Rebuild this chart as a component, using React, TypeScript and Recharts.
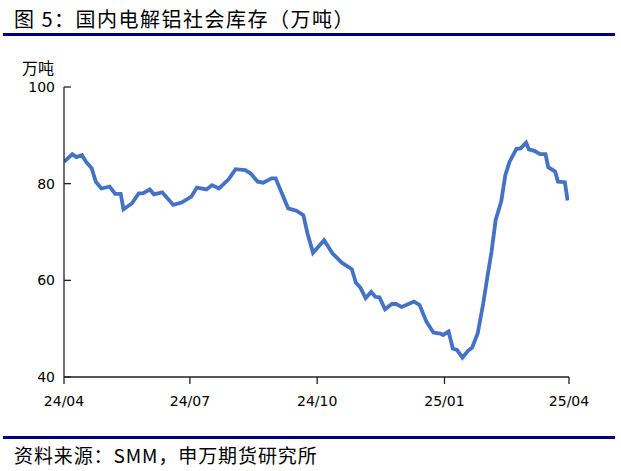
import React from 'react';
import { LineChart, Line, XAxis, YAxis } from 'recharts';

const dates = [
  '2024-04-01', '2024-04-07', '2024-04-10', '2024-04-14', '2024-04-17', '2024-04-21', '2024-04-24', '2024-04-28',
  '2024-05-04', '2024-05-08', '2024-05-12', '2024-05-14', '2024-05-20', '2024-05-25', '2024-05-28',
  '2024-06-02', '2024-06-05', '2024-06-11', '2024-06-19', '2024-06-25',
  '2024-07-02', '2024-07-06', '2024-07-13', '2024-07-17', '2024-07-22', '2024-07-29',
  '2024-08-03', '2024-08-10', '2024-08-14', '2024-08-19', '2024-08-23', '2024-08-29',
  '2024-09-01', '2024-09-03', '2024-09-10', '2024-09-16', '2024-09-21', '2024-09-24', '2024-09-28',
  '2024-10-06', '2024-10-12', '2024-10-19', '2024-10-24', '2024-10-26', '2024-10-29',
  '2024-11-01', '2024-11-05', '2024-11-09', '2024-11-12', '2024-11-15', '2024-11-19', '2024-11-24', '2024-11-27',
  '2024-12-01', '2024-12-06', '2024-12-10', '2024-12-14', '2024-12-19', '2024-12-24', '2024-12-29', '2024-12-31',
  '2025-01-04', '2025-01-07', '2025-01-10', '2025-01-14', '2025-01-18', '2025-01-21', '2025-01-25', '2025-01-29',
  '2025-02-01', '2025-02-04', '2025-02-07', '2025-02-11', '2025-02-14', '2025-02-17', '2025-02-22', '2025-02-25',
  '2025-03-01', '2025-03-03', '2025-03-07', '2025-03-11', '2025-03-15', '2025-03-17', '2025-03-22', '2025-03-24',
  '2025-03-29', '2025-03-31',
];

const inventory = [
  84.5, 86.1, 85.5, 85.9, 84.5, 83.2, 80.4, 79.0,
  79.4, 77.9, 77.9, 74.7, 75.9, 78.0, 78.0,
  78.8, 77.8, 78.2, 75.6, 76.1,
  77.3, 79.2, 78.8, 79.7, 79.0, 80.9,
  83.0, 82.8, 82.1, 80.4, 80.2, 81.1,
  81.1, 79.7, 74.9, 74.4, 73.5, 69.7, 65.7,
  68.3, 65.6, 63.6, 62.7, 62.3, 59.5,
  58.6, 56.3, 57.6, 56.6, 56.5, 54.0, 55.1, 55.1,
  54.5, 55.1, 55.6, 54.9, 51.4, 49.2, 49.0, 48.7,
  49.4, 45.9, 45.6, 44.0, 45.4, 46.1, 49.0, 55.2,
  60.7, 65.9, 72.5, 76.3, 81.8, 84.5, 87.2, 87.3,
  88.5, 87.1, 86.8, 86.1, 86.1, 83.4, 82.5, 80.4,
  80.3, 76.5,
];

const xTickDates = ['2024-04-01', '2024-07-01', '2024-10-01', '2025-01-01', '2025-04-01'];
const xTickLabels = ['24/04', '24/07', '24/10', '25/01', '25/04'];
const yTicks = [40, 60, 80, 100];

const titleText = '图 5：国内电解铝社会库存（万吨）';
const unitText = '万吨';
const sourceText = '资料来源：SMM，申万期货研究所';

const toTs = (s: string) => {
  const [y, m, d] = s.split('-').map(Number);
  return Date.UTC(y, m - 1, d);
};

const data = dates.map((d, i) => ({ t: toTs(d), v: inventory[i] }));
const xTicks = xTickDates.map(toTs);
const labelFor = (t: number) => {
  const i = xTicks.indexOf(t);
  return i >= 0 ? xTickLabels[i] : '';
};

const Y_TICK_MARGIN = 9;
const AXIS_COLOR = '#222';
const TICK_FONT = "'DejaVu Sans', sans-serif";
const CJK_FONT = "'Noto Sans CJK SC', sans-serif";

const YTick = (props: any) => {
  const { x, y, payload } = props;
  const ax = x + Y_TICK_MARGIN;
  return (
    <g>
      <line x1={ax} x2={ax + 7} y1={y} y2={y} stroke={AXIS_COLOR} strokeWidth={1.3} />
      <text x={x} y={y} dy="0.36em" textAnchor="end" fontSize={14} fontFamily={TICK_FONT} fill="#000">
        {payload.value}
      </text>
    </g>
  );
};

export default function App() {
  return (
    <div style={{ position: 'fixed', left: 0, top: 0, width: 621, height: 471, background: '#fff', overflow: 'hidden' }}>
      <div
        style={{
          position: 'absolute', left: 14, top: 6, fontFamily: CJK_FONT, fontSize: 20, lineHeight: '26px',
          color: '#000', whiteSpace: 'nowrap', letterSpacing: 1.5,
        }}
      >
        {titleText}
      </div>
      <div style={{ position: 'absolute', left: 3, top: 33, width: 612, height: 3, background: '#000080' }} />
      <div
        style={{
          position: 'absolute', left: 22, top: 57, fontFamily: CJK_FONT, fontSize: 16, lineHeight: '20px',
          color: '#000', whiteSpace: 'nowrap',
        }}
      >
        {unitText}
      </div>
      <div style={{ position: 'absolute', left: 3, top: 436, width: 612, height: 3, background: '#000080' }} />
      <div
        style={{
          position: 'absolute', left: 14, top: 442, fontFamily: CJK_FONT, fontSize: 19, lineHeight: '26px',
          color: '#000', whiteSpace: 'nowrap', letterSpacing: 0.9,
        }}
      >
        {sourceText}
      </div>
      <div style={{ position: 'absolute', left: 0, top: 0 }}>
        <LineChart width={621} height={471} data={data} margin={{ top: 87, right: 52, bottom: 64, left: 0 }}>
          <XAxis
            dataKey="t"
            type="number"
            scale="time"
            domain={[xTicks[0], xTicks[xTicks.length - 1]]}
            ticks={xTicks}
            tickFormatter={labelFor}
            height={30}
            tickSize={7}
            tickMargin={12}
            stroke={AXIS_COLOR}
            strokeWidth={1.3}
            tick={{ fill: '#000', fontSize: 14, fontFamily: TICK_FONT }}
            allowDataOverflow
          />
          <YAxis
            dataKey="v"
            type="number"
            domain={[40, 100]}
            ticks={yTicks}
            width={64}
            tickSize={0}
            tickMargin={Y_TICK_MARGIN}
            tickLine={false}
            stroke={AXIS_COLOR}
            strokeWidth={1.3}
            tick={<YTick />}
            interval={0}
          />
          <Line
            type="linear"
            dataKey="v"
            stroke="#4472C4"
            strokeWidth={3.8}
            dot={false}
            isAnimationActive={false}
          />
        </LineChart>
      </div>
    </div>
  );
}
